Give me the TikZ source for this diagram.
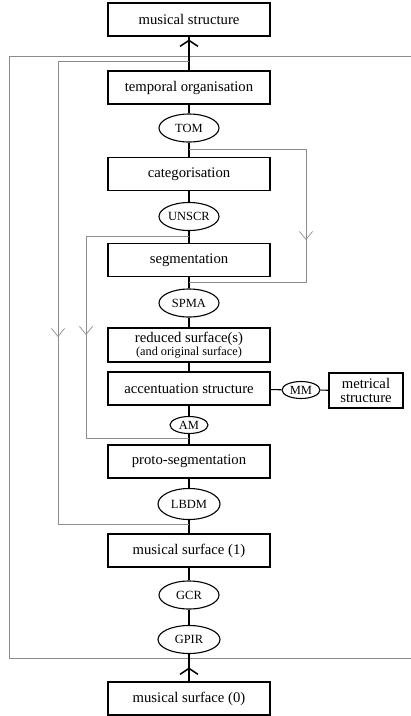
\documentclass[tikz,border=0pt]{standalone}
\usepackage{fontspec}
\setmainfont{Liberation Serif}
\usetikzlibrary{arrows.meta,decorations.markings,shapes.geometric}

\tikzset{
  stage/.style={draw, line width=1.1pt, minimum width=162pt, minimum height=33pt, inner sep=1pt, align=center, font=\fontsize{14.7}{14}\selectfont},
  rule/.style={draw, ellipse, line width=1.1pt, minimum width=60pt, minimum height=28pt, inner sep=0pt, font=\fontsize{12.5}{13}\selectfont},
  smallrule/.style={rule, minimum width=38pt, minimum height=17pt},
  link/.style={line width=1.1pt},
  feedback/.style={draw=black!45, line width=0.7pt},
  downtip/.style={postaction={decorate}, decoration={markings, mark=at position #1 with {\arrow{Straight Barb[length=8pt, width=13pt, line width=0.7pt, color=black!45]}}}},
  uptip/.style={postaction={decorate}, decoration={markings, mark=at position #1 with {\arrow{Straight Barb[length=6pt, width=18pt, line width=1.5pt]}}}}
}

\begin{document}
\begin{tikzpicture}[x=1pt, y=-1pt]

\useasboundingbox (0,0) rectangle (411,716);

\draw[feedback] (411,56) -- (9,56) -- (9,658) -- (411,658);

\node[stage] (ms) at (189,19.5) {musical structure};
\node[stage] (to) at (189,87.5) {temporal organisation};
\node[rule] (tom) at (189,128) {TOM};
\node[stage] (cat) at (189,174) {categorisation};
\node[rule] (unscr) at (189,216.5) {UNSCR};
\node[stage] (seg) at (189,260) {segmentation};
\node[rule] (spma) at (189,303) {SPMA};
\node[stage, minimum height=34pt] (red) at (189,345) {reduced surface(s)\\[-1pt]{\fontsize{12.3}{12}\selectfont (and original surface)}};
\node[stage] (acc) at (189,388.5) {accentuation structure};
\node[smallrule] (mm) at (301,390) {MM};
\node[stage, minimum width=74pt, minimum height=35pt] (met) at (366,390.5) {metrical\\structure};
\node[smallrule] (am) at (189,425) {AM};
\node[stage] (proto) at (189,461.5) {proto-segmentation};
\node[rule, minimum width=62pt, minimum height=31pt] (lbdm) at (189,504) {LBDM};
\node[stage] (ms1) at (189,550.5) {musical surface (1)};
\node[rule] (gcr) at (189,595) {GCR};
\node[rule, minimum width=62pt] (gpir) at (189,639.5) {GPIR};
\node[stage] (ms0) at (189,698.5) {musical surface (0)};

\draw[link] (to) -- (tom) -- (cat) -- (unscr) -- (seg) -- (spma) -- (red) -- (acc) -- (am) -- (proto) -- (lbdm) -- (ms1) -- (gcr) -- (gpir);
\draw[link] (acc) -- (mm) -- (met);
\draw[link, uptip=31pt] (to.north) -- (ms.south);
\draw[link, uptip=14pt] (ms0.north) -- (gpir.south);

\coordinate (outA) at (189,61);
\coordinate (outB) at (58,61);
\coordinate (outC) at (58,524);
\coordinate (outD) at (189,524);
\coordinate (catA) at (189,149);
\coordinate (catB) at (306,149);
\coordinate (catC) at (306,282);
\coordinate (catD) at (189,282);
\coordinate (segA) at (189,236);
\coordinate (segB) at (86,236);
\coordinate (segC) at (86,438);
\coordinate (segD) at (189,438);

\draw[feedback, downtip=407pt] (outA) -- (outB) -- (outC) -- (outD);
\draw[feedback, downtip=208pt] (catA) -- (catB) -- (catC) -- (catD);
\draw[feedback, downtip=202pt] (segA) -- (segB) -- (segC) -- (segD);

\end{tikzpicture}
\end{document}
